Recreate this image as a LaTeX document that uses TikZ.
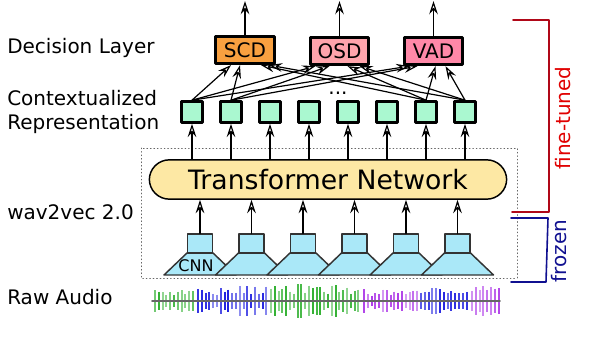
\documentclass[tikz,border=0pt]{standalone}
\usepackage{fontspec}
\setmainfont{DejaVu Sans}
\usetikzlibrary{arrows.meta,calc,positioning}
\definecolor{scdorange}{HTML}{F8A040}
\definecolor{osdpink}{HTML}{FFA4AC}
\definecolor{vadpink}{HTML}{FF88A8}
\definecolor{reprgreen}{HTML}{AAF8D0}
\definecolor{trfyellow}{HTML}{FDE8A4}
\definecolor{cnnblue}{HTML}{AAE8F8}
\definecolor{tunedred}{HTML}{B00818}
\definecolor{tunedtext}{HTML}{E00000}
\definecolor{frozenblue}{HTML}{101090}
\definecolor{wgreen}{HTML}{30B030}
\definecolor{wblue}{HTML}{2020E0}
\definecolor{wpurple}{HTML}{B040E8}
\begin{document}
\begin{tikzpicture}[x=0.75pt,y=-0.75pt,line cap=round,line join=round,
  font=\fontsize{15}{18}\selectfont,
  arr/.style={line width=0.9pt,-{Stealth[open,length=10pt,width=6.5pt,inset=3.5pt]}},
  decbox/.style={draw,line width=2.2pt,minimum width=44pt,minimum height=20.5pt,inner sep=0pt},
  reprbox/.style={draw,fill=reprgreen,line width=2.2pt,minimum size=15.5pt,inner sep=0pt},
  cnnbox/.style={draw=black!80,fill=cnnblue,line width=1.1pt,minimum width=19pt,minimum height=14pt,inner sep=0pt},
  cnnshape/.style={draw=black!80,fill=cnnblue,line width=1.1pt},
  lbl/.style={anchor=west,inner sep=0pt,align=left}]
  \useasboundingbox (0,0) rectangle (600,350);
  % left labels
  \node[lbl] (ldec) at (7,48) {Decision Layer};
  \node[lbl] (lrep) at (7,112) {Contextualized\\Representation};
  \node[lbl] (lw2v) at (7,212) {wav2vec 2.0};
  \node[lbl] (lraw) at (7,297) {Raw Audio};
  % wav2vec 2.0 block
  \draw[dotted,black!60,line width=0.6pt] (141,148) rectangle (517,278);
  \node[draw,fill=trfyellow,line width=1.1pt,rounded corners=15pt,minimum width=268pt,minimum height=29.5pt,
    font=\fontsize{20}{24}\selectfont] (trf) at (328,179.5) {Transformer Network};
  \foreach \i [evaluate=\i as \cx using 148.5+51.5*\i] in {1,...,6}{
    \draw[cnnshape] ({\cx-13},253) -- ({\cx+13},253) -- ({\cx+36},275) -- ({\cx-36},275) -- cycle;
    \node[cnnbox] (k\i) at (\cx,243.5) {};
    \draw[arr] (k\i.north) -- (k\i |- trf.south);
  }
  \node[font=\fontsize{12}{14}\selectfont,inner sep=0pt] (cnn) at (196,266) {CNN};
  % contextualized representation
  \foreach \i in {1,...,8}{
    \node[reprbox] (c\i) at ({153+39*\i},112) {};
    \draw[arr] (c\i |- trf.north) -- (c\i.south);
  }
  \node[anchor=base,inner sep=0pt] (dots) at (338,94) {...};
  % decision layer
  \node[decbox,fill=scdorange] (scd) at (245,50) {SCD};
  \node[decbox,fill=osdpink] (osd) at (339.5,51) {OSD};
  \node[decbox,fill=vadpink] (vad) at (433.5,51) {VAD};
  \foreach \s/\t/\dx in {c1/scd/-14,c2/scd/-5,c7/scd/16,c8/scd/24,
                         c1/osd/-24,c2/osd/-10,c7/osd/8,c8/osd/20,
                         c1/vad/-24,c2/vad/-16,c7/vad/2,c8/vad/12}
    \draw[arr] (\s.north) -- ($(\t.south)+(\dx,0)$);
  \foreach \b in {scd,osd,vad}
    \draw[arr] (\b.north) -- (\b.north |- 0,1);
  % raw audio
  \pgfmathsetseed{17}
  \foreach \a/\n/\amp/\col in {155/11/12/wgreen,198/19/16/wblue,271/24/17/wgreen,
                               364/15/12/wpurple,421/13/15/wblue,472/8/15/wpurple}{
    \foreach \k in {1,...,\n}{
      \pgfmathsetmacro\wx{\a+3.8*(\k-1)}
      \pgfmathsetmacro\wh{\amp*(0.4+0.6*rnd)}
      \pgfmathsetmacro\wo{0.5+0.5*rnd}
      \draw[\col,opacity=\wo,line width=1.4pt,line cap=butt] (\wx,301-\wh) -- (\wx,301+\wh);
    }
  }
  \draw[black!60,line width=1.2pt] (152,301) -- (500,301);
  % brackets
  \draw[tunedred,line width=1.2pt] (513,20) -- (549,20) -- (549,212) -- (512,212);
  \node[rotate=90,text=tunedtext,inner sep=0pt] (tuned) at (563,118) {fine-tuned};
  \draw[frozenblue,line width=1.2pt] (511,218) -- (548,218) -- (546,282) -- (511,282);
  \node[rotate=90,text=frozenblue,inner sep=0pt] (frozen) at (559,251) {frozen};
\end{tikzpicture}
\end{document}
